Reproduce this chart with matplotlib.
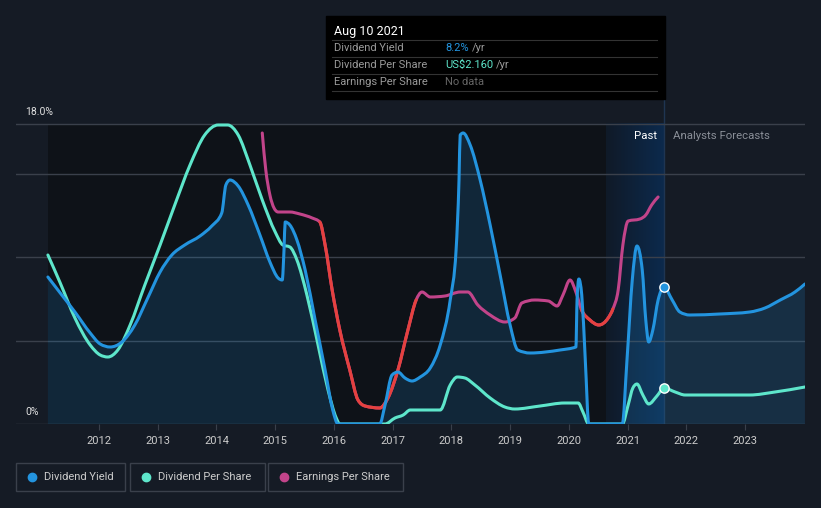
import numpy as np
import matplotlib
matplotlib.use("Agg")
from matplotlib import pyplot as plt
from matplotlib.path import Path
from matplotlib.patches import PathPatch
from matplotlib.colors import LinearSegmentedColormap

plt.rcParams['font.family'] = ['Roboto', 'DejaVu Sans']

# dividend yield (%)
dy_year = [2011.13, 2011.34, 2011.59, 2011.85, 2012.02, 2012.19, 2012.39, 2012.61, 2012.83, 2013.04,
           2013.24, 2013.46, 2013.72, 2013.92, 2014.09, 2014.16, 2014.23, 2014.37, 2014.54, 2014.74,
           2014.91, 2015.05, 2015.12, 2015.15, 2015.17, 2015.25, 2015.37, 2015.51, 2015.68, 2015.85,
           2015.98, 2016.07, 2016.78, 2016.87, 2016.99, 2017.09, 2017.21, 2017.33, 2017.47, 2017.64,
           2017.81, 2017.98, 2018.08, 2018.13, 2018.15, 2018.20, 2018.32, 2018.49, 2018.66, 2018.83,
           2019.00, 2019.13, 2019.34, 2019.85, 2020.12, 2020.14, 2020.17, 2020.22, 2020.28, 2020.34,
           2020.91, 2020.99, 2021.08, 2021.16, 2021.25, 2021.31, 2021.36, 2021.43, 2021.52, 2021.62,
           2021.76, 2021.89, 2022.06, 2022.57, 2023.08, 2023.34, 2023.60, 2023.85, 2024.02]
dy_val = [8.82, 7.86, 6.72, 5.46, 4.80, 4.62, 4.92, 5.94, 7.56, 9.12,
          10.14, 10.74, 11.28, 11.88, 12.66, 14.34, 14.64, 14.28, 13.14, 11.34,
          9.72, 8.76, 8.64, 10.44, 12.12, 11.94, 11.04, 9.24, 6.24, 3.24,
          0.84, 0.0, 0.0, 1.14, 2.94, 3.12, 2.76, 2.58, 2.82, 3.36,
          4.74, 7.44, 10.44, 14.64, 17.34, 17.46, 16.74, 14.64, 11.94, 8.94,
          5.94, 4.44, 4.26, 4.44, 4.62, 7.44, 8.70, 7.74, 3.84, 0.0,
          0.0, 3.84, 8.64, 10.68, 9.24, 6.24, 4.92, 5.64, 7.44, 8.22,
          7.44, 6.72, 6.54, 6.60, 6.72, 6.96, 7.44, 7.92, 8.40]

# dividend per share, in chart units
dps_year = [2011.13, 2011.34, 2011.59, 2011.85, 2012.02, 2012.15, 2012.32, 2012.53, 2012.78, 2013.04,
            2013.29, 2013.55, 2013.80, 2014.03, 2014.19, 2014.37, 2014.57, 2014.78, 2015.00, 2015.13,
            2015.25, 2015.37, 2015.54, 2015.73, 2015.90, 2016.04, 2016.10, 2016.87, 2017.04, 2017.18,
            2017.30, 2017.81, 2017.98, 2018.10, 2018.23, 2018.40, 2018.66, 2018.91, 2019.08, 2019.51,
            2019.93, 2020.16, 2020.24, 2020.34, 2020.91, 2021.01, 2021.09, 2021.16, 2021.26, 2021.36,
            2021.50, 2021.62, 2021.81, 2021.98, 2023.08, 2023.51, 2024.02]
dps_val = [10.14, 8.46, 6.36, 4.74, 4.14, 4.02, 4.44, 5.94, 8.34, 10.74,
           13.14, 15.54, 17.34, 17.94, 17.94, 17.34, 15.54, 13.44, 11.52, 10.74,
           10.62, 9.84, 7.74, 4.74, 2.04, 0.36, 0.0, 0.0, 0.36, 0.54,
           0.84, 0.84, 2.34, 2.82, 2.76, 2.34, 1.56, 1.02, 0.90, 1.08,
           1.26, 1.26, 0.72, 0.0, 0.0, 1.14, 2.16, 2.40, 1.74, 1.20,
           1.68, 2.16, 1.92, 1.74, 1.74, 1.92, 2.22]

# earnings per share, in chart units
eps_year = [2014.78, 2014.84, 2014.91, 2014.98, 2015.05, 2015.25, 2015.42, 2015.63, 2015.76, 2015.85,
            2015.97, 2016.10, 2016.27, 2016.41, 2016.53, 2016.78, 2016.92, 2017.09, 2017.26, 2017.40,
            2017.50, 2017.64, 2017.89, 2018.15, 2018.28, 2018.45, 2018.66, 2018.91, 2019.08, 2019.20,
            2019.42, 2019.65, 2019.80, 2019.90, 2020.02, 2020.12, 2020.21, 2020.36, 2020.51, 2020.67,
            2020.75, 2020.84, 2020.92, 2021.01, 2021.21, 2021.31, 2021.41, 2021.52]
eps_val = [17.46, 15.24, 13.74, 12.96, 12.72, 12.72, 12.60, 12.36, 12.12, 10.74,
           8.04, 5.64, 3.24, 1.44, 1.08, 0.96, 1.56, 3.24, 5.64, 7.44,
           7.92, 7.62, 7.68, 7.92, 7.92, 7.14, 6.54, 6.12, 6.36, 7.26,
           7.44, 7.38, 7.08, 7.74, 8.64, 7.92, 6.90, 6.24, 5.94, 6.36,
           6.90, 8.04, 10.74, 12.18, 12.30, 12.54, 13.14, 13.62]
eps_red_spans = [(2015.76, 2017.40), (2020.21, 2020.75)]

years = [2012, 2013, 2014, 2015, 2016, 2017, 2018, 2019, 2020, 2021, 2022, 2023]
now = 2021.62

BG = '#151b25'
DARK = '#0e1218'
BLUE = '#2394df'
TEAL = '#5ee6cb'
PINK = '#c2448a'
RED = '#e5413f'
FS = 8.0


def tangents(x, y):
    # monotone-x tangents, like d3.curveMonotoneX
    x = np.asarray(x, float)
    y = np.asarray(y, float)
    n = len(x)
    h = np.diff(x)
    s = np.diff(y) / h
    t = np.zeros(n)
    for k in range(1, n - 1):
        p = (s[k - 1] * h[k] + s[k] * h[k - 1]) / (h[k - 1] + h[k])
        t[k] = (np.sign(s[k - 1]) + np.sign(s[k])) * min(abs(s[k - 1]), abs(s[k]), 0.5 * abs(p))
    t[0] = (3 * s[0] - t[1]) / 2 if n > 2 else s[0]
    t[-1] = (3 * s[-1] - t[-2]) / 2 if n > 2 else s[-1]
    return x, y, t


def curve_path(xs, ys, i0=0, i1=None, close=False):
    x, y, t = tangents(xs, ys)
    if i1 is None:
        i1 = len(x) - 1
    verts = [(x[i0], y[i0])]
    codes = [Path.MOVETO]
    for k in range(i0, i1):
        d = (x[k + 1] - x[k]) / 3
        verts += [(x[k] + d, y[k] + t[k] * d), (x[k + 1] - d, y[k + 1] - t[k + 1] * d), (x[k + 1], y[k + 1])]
        codes += [Path.CURVE4] * 3
    if close:
        verts += [(x[i1], 0), (x[i0], 0), (x[i0], y[i0])]
        codes += [Path.LINETO, Path.LINETO, Path.CLOSEPOLY]
    return Path(verts, codes)


def draw_curve(ax, xs, ys, color, z, i0=0, i1=None):
    ax.add_patch(PathPatch(curve_path(xs, ys, i0, i1), facecolor='none', edgecolor=color,
                           lw=2.2, zorder=z, capstyle='round', joinstyle='round'))


W, H = 821, 508
fig = plt.figure(figsize=(W / 100, H / 100), dpi=100, facecolor=BG)


def fx(x):
    return x / W


def fy(y):
    return 1 - y / H


ax_l, ax_r, ax_t, ax_b = 16, 805, 100, 424
ax = fig.add_axes([fx(ax_l), fy(ax_b), fx(ax_r - ax_l), (ax_b - ax_t) / H])
ax.set_facecolor(BG)
x0 = 2012 - (99 - ax_l) / 58.73
x1 = 2012 + (ax_r - 99) / 58.73
ax.set_xlim(x0, x1)
ymax = (ax_b - ax_t) / 16.667
ax.set_ylim(0, ymax)

# past region and highlight band, up to the 18% line
ax.fill_between([dy_year[0], now], 0, 18, color=DARK, zorder=0, lw=0)
band_start = 2020.63
grad = np.linspace(0, 1, 100).reshape(1, -1)
cmap = LinearSegmentedColormap.from_list('b', ['#101a28', '#0c2a4d'])
ax.imshow(grad, extent=[band_start, now, 0, 18], aspect='auto', cmap=cmap, zorder=0.5)
ax.axvline(now, color='#1f3552', lw=1, zorder=1)

for g in [0, 5, 10, 15, 18]:
    ax.axhline(g, color='#3a404b', lw=1, zorder=1)

ax.add_patch(PathPatch(curve_path(dy_year, dy_val, close=True), facecolor=BLUE, alpha=0.17,
                       lw=0, zorder=2))
draw_curve(ax, dy_year, dy_val, BLUE, 4)
draw_curve(ax, dps_year, dps_val, TEAL, 3)
draw_curve(ax, eps_year, eps_val, PINK, 3)
for a, b in eps_red_spans:
    ia = eps_year.index(a)
    ib = eps_year.index(b)
    draw_curve(ax, eps_year, eps_val, RED, 3.5, ia, ib)

i = dy_year.index(now)
ax.scatter([now], [dy_val[i]], s=45, color=BLUE, edgecolor='white', lw=1, zorder=6)
j = dps_year.index(now)
ax.scatter([now], [dps_val[j]], s=45, color=TEAL, edgecolor='white', lw=1, zorder=6)

for s in ax.spines.values():
    s.set_visible(False)
ax.set_yticks([])
ax.set_xticks(years)
ax.set_xticklabels([str(y) for y in years], color='#cccccc', fontsize=8)
ax.tick_params(axis='x', length=4, color='#3a404b', pad=5)

fig.text(fx(25), fy(112), '18.0%', color='#e0e0e0', fontsize=7.5, va='center')
fig.text(fx(25), fy(412), '0%', color='#e0e0e0', fontsize=7.5, va='center')
fig.text(fx(657), fy(136), 'Past', color='#ffffff', fontsize=8.2, va='center', ha='right')
fig.text(fx(673), fy(136), 'Analysts Forecasts', color='#8a8f98', fontsize=8.2, va='center')

# tooltip
tip = plt.Rectangle((fx(326), fy(99)), fx(665 - 326), (99 - 16) / H, transform=fig.transFigure,
                    color='#000000', zorder=10)
fig.patches.append(tip)
fig.text(fx(334), fy(31), 'Aug 10 2021', color='#ffffff', fontsize=9, va='center', zorder=11)
for ly in [40, 57, 74, 91]:
    fig.add_artist(plt.Line2D([fx(332), fx(657)], [fy(ly), fy(ly)], color='#333333', lw=0.8, zorder=11))
rows = [('Dividend Yield', '8.2%', BLUE, 48),
        ('Dividend Per Share', 'US$2.160', TEAL, 65),
        ('Earnings Per Share', 'No data', '#666666', 82)]
for lab, val, col, yy in rows:
    fig.text(fx(334), fy(yy), lab, color='#9a9a9a', fontsize=FS, va='center', zorder=11)
    t = fig.text(fx(445), fy(yy), val, color=col, fontsize=FS, va='center', zorder=11)
    if val != 'No data':
        fig.canvas.draw()
        bb = t.get_window_extent()
        fig.text(bb.x1 / W + fx(3), fy(yy), '/yr', color='#9a9a9a', fontsize=FS, va='center', zorder=11)

# legend boxes
legend = [('Dividend Yield', BLUE, 16, 125), ('Dividend Per Share', TEAL, 130, 265),
          ('Earnings Per Share', PINK, 268, 403)]
for lab, col, lx0, lx1 in legend:
    r = plt.Rectangle((fx(lx0), fy(491)), fx(lx1 - lx0), (491 - 463) / H, transform=fig.transFigure,
                      facecolor='none', edgecolor='#3a404b', lw=1)
    fig.patches.append(r)
    fig.add_artist(plt.Line2D([fx(lx0 + 16)], [fy(477)], marker='o', markersize=6, color=col, lw=0))
    fig.text(fx(lx0 + 28), fy(477), lab, color='#cccccc', fontsize=8, va='center')

fig.savefig('out.png', dpi=100, facecolor=BG)
